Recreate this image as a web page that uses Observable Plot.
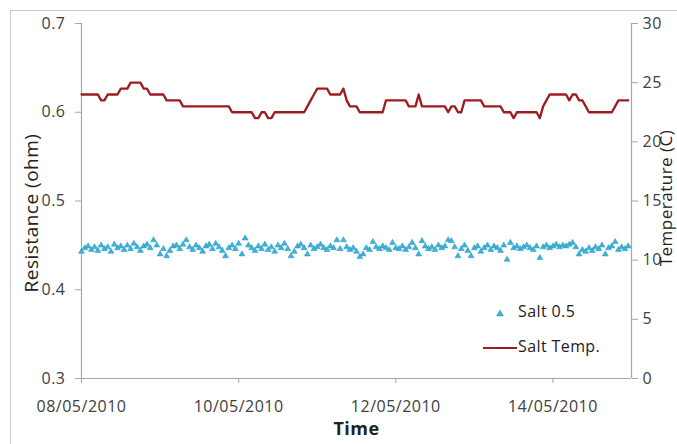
<!DOCTYPE html>
<html><head><meta charset="utf-8">
<script src="https://cdn.jsdelivr.net/npm/d3@7"></script>
<script src="https://cdn.jsdelivr.net/npm/@observablehq/plot@0.6"></script>
<style>
html,body{margin:0;padding:0;background:#fff;}
#wrap{position:relative;width:677px;height:444px;overflow:hidden;font-family:"Open Sans",sans-serif;}
#frame{position:absolute;left:10px;top:10px;width:700px;height:500px;border:1px solid #c8c8c8;}
#wrap svg{position:absolute;left:0;top:0;}
.legend{position:absolute;font-size:16px;letter-spacing:0.4px;line-height:20px;color:#222;white-space:nowrap;}
</style></head><body>
<div id="wrap"><div id="frame"></div></div>
<script>
const startTime = "2010-05-08T00:00:00Z";
const endTime = "2010-05-15T00:00:00Z";
const xTickDates = ["2010-05-08T00:00:00Z","2010-05-10T00:00:00Z","2010-05-12T00:00:00Z","2010-05-14T00:00:00Z"];
const resistanceTicks = [0.3,0.4,0.5,0.6,0.7];
const temperatureTicks = [0,5,10,15,20,25,30];
const seriesNames = ["Salt 0.5","Salt Temp."];
const axisTitles = ["Resistance (ohm)","Temperature (C)","Time"];

// hourly readings, resistance (ohm)
const resistance = [
0.443,0.447,0.449,0.445,0.448,0.444,0.450,0.446,0.448,0.443,0.451,0.447,
0.449,0.445,0.450,0.446,0.452,0.448,0.444,0.449,0.451,0.447,0.456,0.450,
0.440,0.446,0.438,0.444,0.449,0.450,0.446,0.451,0.456,0.448,0.445,0.450,
0.447,0.443,0.449,0.451,0.446,0.452,0.448,0.444,0.438,0.447,0.450,0.446,
0.452,0.440,0.458,0.450,0.447,0.444,0.449,0.446,0.451,0.445,0.448,0.443,
0.450,0.447,0.452,0.446,0.438,0.443,0.449,0.451,0.447,0.440,0.450,0.446,
0.448,0.451,0.447,0.445,0.449,0.447,0.456,0.446,0.456,0.448,0.445,0.447,
0.443,0.437,0.440,0.447,0.445,0.454,0.448,0.446,0.449,0.447,0.445,0.453,
0.447,0.446,0.449,0.445,0.448,0.453,0.447,0.440,0.455,0.449,0.446,0.448,
0.445,0.450,0.447,0.449,0.456,0.455,0.448,0.438,0.446,0.450,0.444,0.438,
0.447,0.449,0.443,0.447,0.450,0.445,0.449,0.447,0.444,0.450,0.434,0.453,
0.447,0.449,0.446,0.448,0.450,0.447,0.445,0.449,0.436,0.448,0.450,0.447,
0.449,0.451,0.448,0.450,0.449,0.451,0.453,0.448,0.440,0.445,0.443,0.447,
0.444,0.448,0.446,0.450,0.440,0.447,0.449,0.454,0.445,0.448,0.446,0.449
];

// hourly readings, temperature (C)
const temperature = [
24.0,24.0,24.0,24.0,24.0,24.0,23.5,23.5,24.0,24.0,24.0,24.0,
24.5,24.5,24.5,25.0,25.0,25.0,25.0,24.5,24.5,24.0,24.0,24.0,
24.0,24.0,23.5,23.5,23.5,23.5,23.5,23.0,23.0,23.0,23.0,23.0,
23.0,23.0,23.0,23.0,23.0,23.0,23.0,23.0,23.0,23.0,22.5,22.5,
22.5,22.5,22.5,22.5,22.5,22.0,22.0,22.5,22.5,22.0,22.0,22.5,
22.5,22.5,22.5,22.5,22.5,22.5,22.5,22.5,22.5,23.0,23.5,24.0,
24.5,24.5,24.5,24.5,24.0,24.0,24.0,24.0,24.5,23.5,23.0,23.0,
23.0,22.5,22.5,22.5,22.5,22.5,22.5,22.5,22.5,23.5,23.5,23.5,
23.5,23.5,23.5,23.5,23.0,23.0,23.0,24.0,23.0,23.0,23.0,23.0,
23.0,23.0,23.0,23.0,22.5,23.0,23.0,22.5,22.5,23.5,23.5,23.5,
23.5,23.5,23.5,23.0,23.0,23.0,23.0,23.0,23.0,22.5,22.5,22.5,
22.0,22.5,22.5,22.5,22.5,22.5,22.5,22.5,22.0,23.0,23.5,24.0,
24.0,24.0,24.0,24.0,24.0,23.5,24.0,24.0,23.5,23.5,23.0,22.5,
22.5,22.5,22.5,22.5,22.5,22.5,22.5,23.0,23.5,23.5,23.5,23.5
];

const t0 = new Date(startTime);
const rows = resistance.map((r, i) => ({t: new Date(+t0 + i * 3600e3), r, temp: temperature[i]}));
const xDomain = [new Date(startTime), new Date(endTime)];
const xTicks = xTickDates.map(d => new Date(d));

const W = 677, H = 444;
const M = {left: 81, right: 46, top: 23, bottom: 66};
const axisGray = "#a6a6a6";
const textCol = "#404040";
const font = "'Open Sans', sans-serif";
const baseStyle = {background: "transparent", fontFamily: font, fontSize: "16px", letterSpacing: "0.5px", color: textCol, overflow: "visible"};

const left = Plot.plot({
  width: W, height: H,
  marginLeft: M.left, marginRight: M.right, marginTop: M.top, marginBottom: M.bottom,
  style: baseStyle,
  x: {type: "utc", domain: xDomain, axis: null},
  y: {domain: [0.3, 0.7], axis: null},
  marks: [
    Plot.ruleX([xDomain[0]], {stroke: axisGray, strokeWidth: 1.2}),
    Plot.ruleY([0.3], {stroke: axisGray, strokeWidth: 1.2}),
    Plot.axisY({ticks: resistanceTicks, tickFormat: d3.format(".1f"), tickSize: 6, tickPadding: 10, stroke: axisGray, fill: textCol, label: null, fontSize: 16}),
    Plot.axisX({ticks: xTicks, tickFormat: d3.utcFormat("%d/%m/%Y"), tickSize: 5, tickPadding: 17, stroke: axisGray, fill: textCol, label: null, fontSize: 16}),
    Plot.dot(rows, {x: "t", y: "r", symbol: "triangle", r: 2.2, fill: "#3bb3d9", stroke: "#2c97bd", strokeWidth: 0.5}),
    Plot.text([axisTitles[0]], {frameAnchor: "left", textAnchor: "middle", dx: -50, dy: 12, rotate: -90, fontSize: 19, letterSpacing: "0px", fill: "#222"}),
    Plot.text([axisTitles[2]], {frameAnchor: "bottom", textAnchor: "middle", dy: 56, fontSize: 18, fontWeight: "bold", fill: "#222"})
  ]
});

const right = Plot.plot({
  width: W, height: H,
  marginLeft: M.left, marginRight: M.right, marginTop: M.top, marginBottom: M.bottom,
  style: baseStyle,
  x: {type: "utc", domain: xDomain, axis: null},
  y: {domain: [0, 30], axis: null},
  marks: [
    Plot.ruleX([xDomain[1]], {stroke: axisGray, strokeWidth: 1.2}),
    Plot.axisY({anchor: "right", ticks: temperatureTicks, tickSize: 6, tickPadding: 5, stroke: axisGray, fill: textCol, label: null, fontSize: 16}),
    Plot.line(rows, {x: "t", y: "temp", stroke: "#9e1c1f", strokeWidth: 2.3}),
    Plot.text([axisTitles[1]], {frameAnchor: "right", textAnchor: "middle", dx: 35, dy: -3, rotate: -90, fontSize: 17, fill: "#222"})
  ]
});

const wrap = document.getElementById("wrap");
wrap.appendChild(left);
wrap.appendChild(right);

// legend
const lg1 = document.createElement("div");
lg1.className = "legend";
lg1.style.left = "494px"; lg1.style.top = "301px";
lg1.innerHTML = `<svg width="12" height="12" style="position:static;vertical-align:middle;margin-right:12px"><polygon points="6,3 9.5,9 2.5,9" fill="#3bb3d9" stroke="#2c97bd" stroke-width="0.5"/></svg>${seriesNames[0]}`;
const lg2 = document.createElement("div");
lg2.className = "legend";
lg2.style.left = "483px"; lg2.style.top = "336px";
lg2.innerHTML = `<svg width="34" height="12" style="position:static;vertical-align:middle;margin-right:1px"><line x1="0" y1="6" x2="34" y2="6" stroke="#9e1c1f" stroke-width="2.2"/></svg>${seriesNames[1]}`;
wrap.appendChild(lg1);
wrap.appendChild(lg2);
</script>
</body></html>
